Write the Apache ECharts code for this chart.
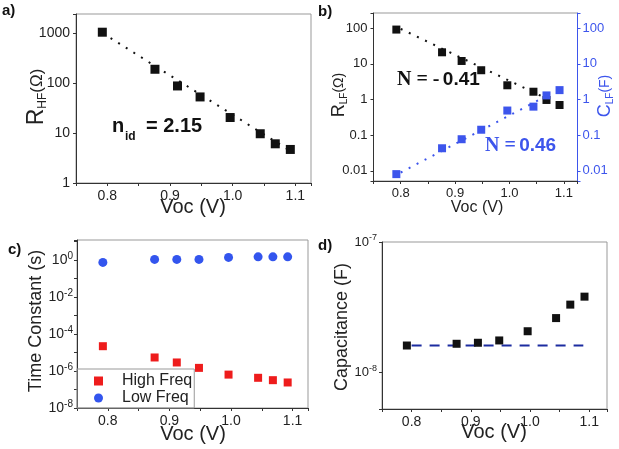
<!DOCTYPE html>
<html><head><meta charset="utf-8">
<script src="https://cdn.jsdelivr.net/npm/echarts@6/dist/echarts.min.js"></script>
<style>html,body{margin:0;padding:0;background:#fff}#c{width:619px;height:449px}</style>
</head><body><div id="c"></div>
<script>
// ---- data ----
const voc = [0.792, 0.876, 0.912, 0.948, 0.996, 1.044, 1.068, 1.092];
const rHF = [1050, 190, 88, 53, 20.5, 9.7, 6.1, 4.7];
const fitHFx = [0.793, 1.093];
const fitHFy = [1000, 4.3];
const rLF = [91, 21, 12, 6.6, 2.5, 1.65, 0.97, 0.70];
const cLF = [0.0081, 0.043, 0.077, 0.142, 0.49, 0.63, 1.3, 1.83];
const fitRx = [0.8, 1.075];
const fitRy = [95, 0.95];
const fitCx = [0.8, 1.07];
const fitCy = [0.009, 1.3];
const tauHigh = [2.2e-5, 5.4e-6, 2.9e-6, 1.48e-6, 6.4e-7, 4.3e-7, 3.2e-7, 2.4e-7];
const tauLow = [0.75, 1.09, 1.09, 1.09, 1.4, 1.5, 1.5, 1.5];
const cap = [1.6e-8, 1.65e-8, 1.68e-8, 1.75e-8, 2.06e-8, 2.6e-8, 3.3e-8, 3.8e-8];
const capLineX = [0.80, 1.09];
const capLineY = [1.6e-8, 1.6e-8];
const xTickLabels = ['0.8', '0.9', '1.0', '1.1'];
const legendNames = ['High Freq', 'Low Freq'];

// ---- helpers ----
const FF = "'Liberation Sans', Arial, sans-serif";
const BLUE = '#3d55ec';
const pair = (xs, ys) => xs.map((x, i) => [x, ys[i]]);
function fmtX(v) {
  const hit = xTickLabels.find(t => Math.abs(parseFloat(t) - v) < 1e-6);
  return hit || '';
}
function isDecade(v) { const e = Math.log10(v); return Math.abs(e - Math.round(e)) < 1e-6; }
function fmtPlain(v) {
  if (!isDecade(v)) return '';
  const e = Math.round(Math.log10(v));
  return e >= 0 ? String(Math.round(v)) : v.toFixed(-e);
}
function fmtPow(step) {
  return v => {
    if (!isDecade(v)) return '';
    const e = Math.round(Math.log10(v));
    if (e % step !== 0) return '';
    return '{b|10}{e|' + e + '}';
  };
}
const axLine = {show: true, lineStyle: {color: '#333', width: 1}};
const axTick = {show: true, inside: false, length: 3, lineStyle: {color: '#333'}};
function xAx(gi, min, max, fs) {
  return {type: 'value', gridIndex: gi, min, max, interval: 0.05,
    axisLine: axLine, axisTick: axTick, splitLine: {show: false},
    axisLabel: {fontSize: fs, color: '#222', fontFamily: FF, margin: 6, formatter: fmtX}};
}
function yLog(gi, min, max, label, extra) {
  return Object.assign({type: 'log', logBase: 10, gridIndex: gi, min, max, splitNumber: 10,
    axisLine: axLine, axisTick: axTick, splitLine: {show: false}, minorTick: {show: false},
    axisLabel: label}, extra || {});
}
const powRich = (fs, es) => ({
  b: {fontSize: fs, lineHeight: fs + 4, color: '#222', fontFamily: FF},
  e: {fontSize: es, lineHeight: es, verticalAlign: 'top', color: '#222', fontFamily: FF}
});

const chart = echarts.init(document.getElementById('c'), null, {renderer: 'canvas'});
const dotted = (color) => ({color, width: 2, type: [2, 7]});
const sq = (color) => ({color, opacity: 1});

const option = {
  animation: false,
  backgroundColor: '#fff',
  textStyle: {fontFamily: FF},
  grid: [
    {left: 76, top: 14, width: 235, height: 169, show: true, borderColor: '#999', borderWidth: 1, containLabel: false},
    {left: 373.5, top: 13, width: 204, height: 168, show: true, borderColor: '#999', borderWidth: 1, containLabel: false},
    {left: 77, top: 240, width: 231, height: 168, show: true, borderColor: '#999', borderWidth: 1, containLabel: false},
    {left: 382, top: 242, width: 225, height: 167, show: true, borderColor: '#999', borderWidth: 1, containLabel: false}
  ],
  xAxis: [xAx(0, 0.75, 1.125, 14), xAx(1, 0.75, 1.125, 13), xAx(2, 0.75, 1.125, 14), xAx(3, 0.75, 1.13, 14)],
  yAxis: [
    yLog(0, 1, 2432, {fontSize: 14, color: '#222', fontFamily: FF, margin: 6, formatter: fmtPlain}),
    yLog(1, 0.0052, 265, {fontSize: 13, color: '#222', fontFamily: FF, margin: 6, formatter: fmtPlain}),
    yLog(1, 0.0052, 265, {fontSize: 13, color: BLUE, fontFamily: FF, margin: 5, formatter: fmtPlain},
      {position: 'right', axisLine: {show: true, lineStyle: {color: BLUE, width: 1}},
       axisTick: {show: true, inside: false, length: 3, lineStyle: {color: BLUE}}}),
    yLog(2, 1e-8, 12.2, {margin: 4, formatter: fmtPow(2), rich: powRich(14, 10)}),
    yLog(3, 5.2e-9, 1e-7, {margin: 5, formatter: fmtPow(1), rich: powRich(13, 9)})
  ],
  legend: {
    data: legendNames, orient: 'vertical', left: 77, top: 369,
    itemWidth: 9, itemHeight: 9, itemGap: 1, padding: [4, 2, 2, 17],
    borderColor: '#999', borderWidth: 1,
    textStyle: {fontSize: 16, color: '#222', fontFamily: FF, padding: [0, 0, 0, 14]}
  },
  series: [
    {type: 'line', xAxisIndex: 0, yAxisIndex: 0, data: pair(fitHFx, fitHFy), showSymbol: false, silent: true, lineStyle: dotted('#111'), z: 1},
    {type: 'scatter', xAxisIndex: 0, yAxisIndex: 0, data: pair(voc, rHF), symbol: 'rect', symbolSize: 9, itemStyle: sq('#111'), z: 2},
    {type: 'line', xAxisIndex: 1, yAxisIndex: 1, data: pair(fitRx, fitRy), showSymbol: false, silent: true, lineStyle: dotted('#111'), z: 1},
    {type: 'scatter', xAxisIndex: 1, yAxisIndex: 1, data: pair(voc, rLF), symbol: 'rect', symbolSize: 8, itemStyle: sq('#111'), z: 2},
    {type: 'line', xAxisIndex: 1, yAxisIndex: 2, data: pair(fitCx, fitCy), showSymbol: false, silent: true, lineStyle: dotted(BLUE), z: 1},
    {type: 'scatter', xAxisIndex: 1, yAxisIndex: 2, data: pair(voc, cLF), symbol: 'rect', symbolSize: 8, itemStyle: sq(BLUE), z: 2},
    {name: 'High Freq', type: 'scatter', xAxisIndex: 2, yAxisIndex: 3, data: pair(voc, tauHigh), symbol: 'rect', symbolSize: 8, itemStyle: sq('#ee1c1c')},
    {name: 'Low Freq', type: 'scatter', xAxisIndex: 2, yAxisIndex: 3, data: pair(voc, tauLow), symbol: 'circle', symbolSize: 9, itemStyle: sq('#3355ee')},
    {type: 'line', xAxisIndex: 3, yAxisIndex: 4, data: pair(capLineX, capLineY), showSymbol: false, silent: true, lineStyle: {color: '#1c2ca0', width: 2, type: [10, 8]}, z: 1},
    {type: 'scatter', xAxisIndex: 3, yAxisIndex: 4, data: pair(voc, cap), symbol: 'rect', symbolSize: 8, itemStyle: sq('#111'), z: 2}
  ],
  graphic: [
    // panel tags
    {type: 'text', x: 2, y: 11, style: {text: 'a)', font: 'bold 15px ' + FF, fill: '#111', align: 'left', verticalAlign: 'middle'}},
    {type: 'text', x: 318, y: 12, style: {text: 'b)', font: 'bold 15px ' + FF, fill: '#111', align: 'left', verticalAlign: 'middle'}},
    {type: 'text', x: 8, y: 250, style: {text: 'c)', font: 'bold 15px ' + FF, fill: '#111', align: 'left', verticalAlign: 'middle'}},
    {type: 'text', x: 318, y: 246, style: {text: 'd)', font: 'bold 15px ' + FF, fill: '#111', align: 'left', verticalAlign: 'middle'}},
    // x titles
    {type: 'text', x: 193, y: 207, style: {text: 'Voc (V)', font: '20px ' + FF, fill: '#222', align: 'center', verticalAlign: 'middle'}},
    {type: 'text', x: 477, y: 208, style: {text: 'Voc (V)', font: '16px ' + FF, fill: '#222', align: 'center', verticalAlign: 'middle'}},
    {type: 'text', x: 193, y: 434, style: {text: 'Voc (V)', font: '20px ' + FF, fill: '#222', align: 'center', verticalAlign: 'middle'}},
    {type: 'text', x: 494, y: 432, style: {text: 'Voc (V)', font: '20px ' + FF, fill: '#222', align: 'center', verticalAlign: 'middle'}},
    // y titles
    {type: 'text', x: 37, y: 97, rotation: Math.PI / 2, style: {text: '{R|R}{s|HF}{p|(Ω)}', align: 'center', verticalAlign: 'middle', fill: '#222',
      rich: {R: {fontSize: 23, lineHeight: 24, fontFamily: FF, fill: '#222'}, s: {fontSize: 12, lineHeight: 12, verticalAlign: 'bottom', fontFamily: FF, fill: '#222'}, p: {fontSize: 17, lineHeight: 24, fontFamily: FF, fill: '#222'}}}},
    {type: 'text', x: 339, y: 95, rotation: Math.PI / 2, style: {text: '{R|R}{s|LF}{p|(Ω)}', align: 'center', verticalAlign: 'middle', fill: '#222',
      rich: {R: {fontSize: 18, lineHeight: 20, fontFamily: FF, fill: '#222'}, s: {fontSize: 10, lineHeight: 10, verticalAlign: 'bottom', fontFamily: FF, fill: '#222'}, p: {fontSize: 14, lineHeight: 20, fontFamily: FF, fill: '#222'}}}},
    {type: 'text', x: 605, y: 96, rotation: Math.PI / 2, style: {text: '{R|C}{s|LF}{p|(F)}', align: 'center', verticalAlign: 'middle', fill: BLUE,
      rich: {R: {fontSize: 18, lineHeight: 20, fontFamily: FF, fill: BLUE}, s: {fontSize: 10, lineHeight: 10, verticalAlign: 'bottom', fontFamily: FF, fill: BLUE}, p: {fontSize: 14, lineHeight: 20, fontFamily: FF, fill: BLUE}}}},
    {type: 'text', x: 36, y: 321, rotation: Math.PI / 2, style: {text: 'Time Constant (s)', font: '18px ' + FF, fill: '#222', align: 'center', verticalAlign: 'middle'}},
    {type: 'text', x: 342, y: 327, rotation: Math.PI / 2, style: {text: 'Capacitance (F)', font: '18px ' + FF, fill: '#222', align: 'center', verticalAlign: 'middle'}},
    // annotations
    {type: 'text', x: 112, y: 126, style: {text: 'n', font: 'bold 20px ' + FF, fill: '#111', align: 'left', verticalAlign: 'middle'}},
    {type: 'text', x: 125, y: 137, style: {text: 'id', font: 'bold 12px ' + FF, fill: '#111', align: 'left', verticalAlign: 'middle'}},
    {type: 'text', x: 146, y: 126, style: {text: '= 2.15', font: 'bold 20px ' + FF, fill: '#111', align: 'left', verticalAlign: 'middle'}},
    {type: 'text', x: 397, y: 80, style: {text: '{t|N = -} {a|0.41}', align: 'left', verticalAlign: 'middle',
      rich: {t: {fontSize: 20, fontWeight: 'bold', fontFamily: "'Liberation Serif', serif", fill: '#111'}, a: {fontSize: 19, fontWeight: 'bold', fontFamily: FF, fill: '#111'}}}},
    {type: 'text', x: 485, y: 146, style: {text: '{t|N =} {a|0.46}', align: 'left', verticalAlign: 'middle',
      rich: {t: {fontSize: 20, fontWeight: 'bold', fontFamily: "'Liberation Serif', serif", fill: BLUE}, a: {fontSize: 19, fontWeight: 'bold', fontFamily: FF, fill: BLUE}}}}
  ]
};
chart.setOption(option);
</script></body></html>
